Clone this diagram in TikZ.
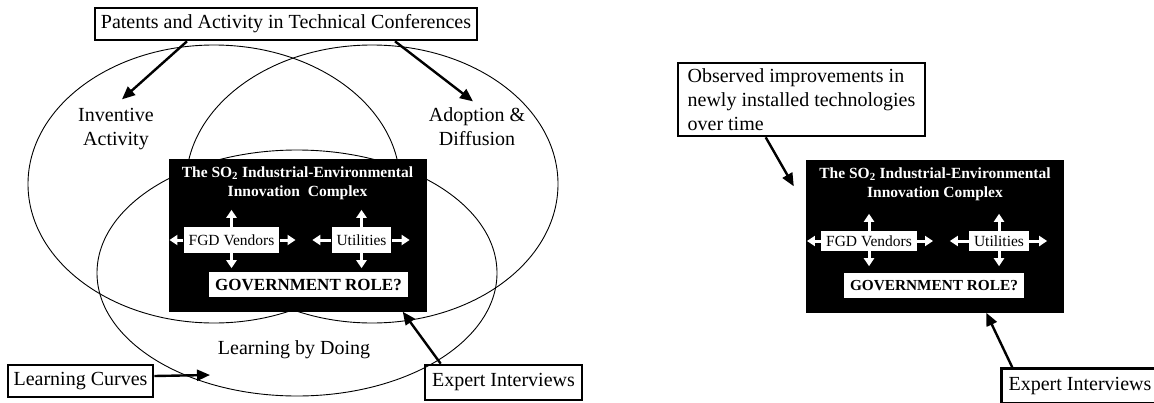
\documentclass[tikz,border=0pt]{standalone}
\usepackage{fontspec}
\setmainfont{Liberation Serif}
\usetikzlibrary{shapes.geometric,arrows.meta,positioning}

\begin{document}
\begin{tikzpicture}[x=1pt,y=-1pt,
    txt/.style={font=\fontsize{20}{24}\selectfont},
    lbox/.style={draw,line width=2.6pt,inner sep=0pt,txt},
    oval/.style={draw,ellipse,line width=0.9pt,inner sep=0pt},
    bigarr/.style={line width=2.4pt,-{Triangle[length=13pt,width=11pt]}},
    warr/.style={draw=white,line width=3pt,-{Triangle[length=8pt,width=10pt]}},
    cplx/.style={fill=black,minimum width=258pt,minimum height=153pt,inner sep=0pt},
    cplxtitle/.style={text=white,align=center,inner sep=0pt,font=\bfseries\fontsize{15.5}{19}\selectfont},
    inbox/.style={fill=white,inner xsep=5pt,inner ysep=0pt,font=\fontsize{15.5}{18}\selectfont}]
    \useasboundingbox (0,0) rectangle (1154,402);
    \clip (0,0) rectangle (1154,402);

    % three overlapping fields
    \node[oval,minimum width=372pt,minimum height=278pt] (inv) at (214,184) {};
    \node[oval,minimum width=372pt,minimum height=278pt] (adp) at (372,184) {};
    \node[oval,minimum width=400pt,minimum height=246pt] (lbd) at (297,273) {};

    \node[txt,align=center] (invlbl) at (116,129) {Inventive\\Activity};
    \node[txt,align=center] (adplbl) at (477,127) {Adoption \&\\Diffusion};
    \node[txt] (lbdlbl) at (294,350) {Learning by Doing};

    % the complex, once per panel
    \foreach \p/\cx/\cy/\bh/\gs/\gx/\gap in {L/297.5/235/26/17/11/\ \ , R/935/236/20/15.3/-1/\ } {
        \node[cplx] (cplx\p) at (\cx,\cy) {};
        \node[cplxtitle] (ttl\p) at (\cx,\cy-52) {The SO\textsubscript{2} Industrial-Environmental\\Innovation\gap Complex};
        \node[inbox,minimum height=\bh pt] (fgd\p) at (\cx-66,\cy+5) {FGD Vendors};
        \node[inbox,minimum height=\bh pt] (util\p) at (\cx+64,\cy+5) {Utilities};
        \node[inbox,inner xsep=6pt,minimum height=25pt,font=\bfseries\fontsize{\gs}{\gs}\selectfont] (gov\p) at (\cx+\gx,\cy+49.5) {GOVERNMENT ROLE?};
        \draw[warr] (fgd\p.north) -- ++(0,-17);
        \draw[warr] (fgd\p.south) -- ++(0,15);
        \draw[warr] (fgd\p.west) -- ++(-14,0);
        \draw[warr] (fgd\p.east) -- ++(16,0);
        \draw[warr] (util\p.north) -- ++(0,-17);
        \draw[warr] (util\p.south) -- ++(0,15);
        \draw[warr] (util\p.west) -- ++(-19,0);
        \draw[warr] (util\p.east) -- ++(18,0);
    }

    % evidence boxes
    \node[lbox,minimum width=382pt,minimum height=32pt] (pat) at (286,24) {Patents and Activity in Technical Conferences};
    \node[lbox,minimum width=145pt,minimum height=32pt] (curves) at (80.5,381) {Learning Curves};
    \node[lbox,minimum width=157pt,minimum height=35pt] (expL) at (503.5,382.5) {Expert Interviews};
    \node[lbox,minimum width=157pt,minimum height=35pt] (expR) at (1080,386) {Expert Interviews};
    \node[lbox,align=left,minimum width=247pt,minimum height=73pt] (obs) at (801.5,99.5) {Observed improvements in\\newly installed technologies\\over time};
    \coordinate (lcend) at (210,375);

    \draw[bigarr,shorten >=8pt] ([xshift=-99pt]pat.south) -- (invlbl.north);
    \draw[bigarr,shorten >=5pt] ([xshift=109pt]pat.south) -- (adplbl.north);
    \draw[bigarr] ([shift={(0,-5)}]curves.east) -- (lcend);
    \draw[bigarr] ([xshift=17pt]expL.north west) -- ([xshift=-24pt]cplxL.south east);
    \draw[bigarr] ([xshift=12pt]expR.north west) -- ([xshift=-78pt]cplxR.south east);
    \draw[bigarr] ([xshift=89pt]obs.south west) -- ([shift={(-12,27)}]cplxR.north west);
\end{tikzpicture}
\end{document}
